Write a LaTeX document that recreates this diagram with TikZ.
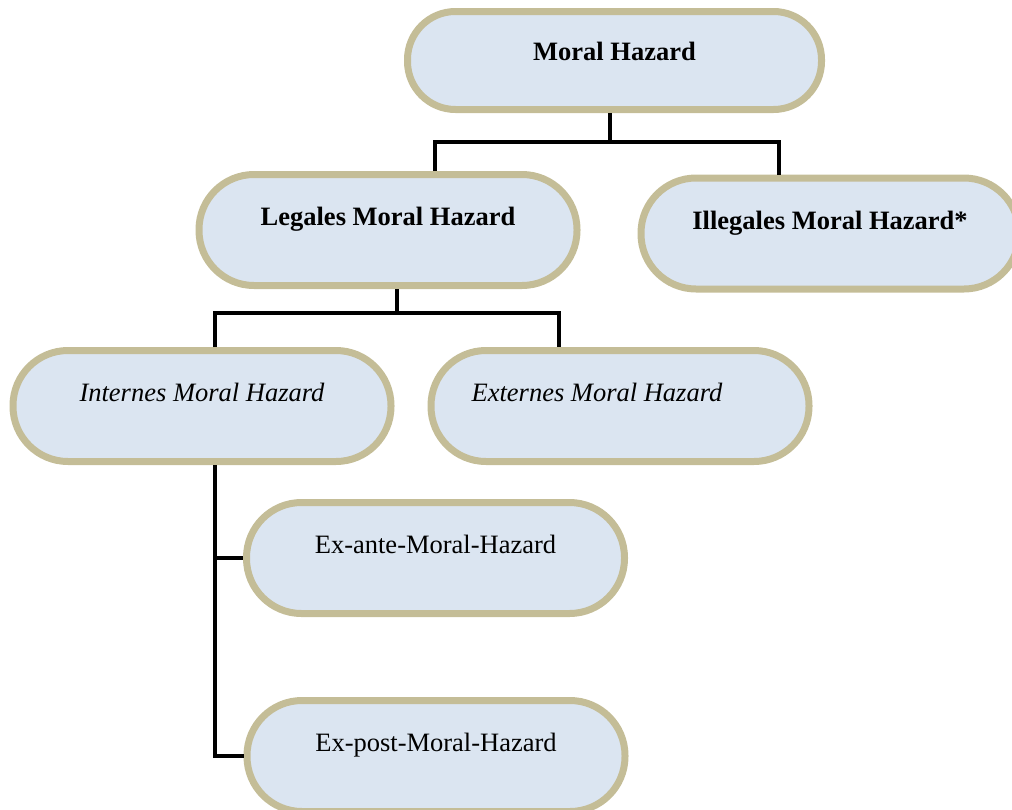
\documentclass[tikz,border=0pt]{standalone}
\usepackage{fontspec}
\setmainfont{Liberation Serif}

\definecolor{pillfill}{HTML}{DBE5F1}
\definecolor{pillline}{HTML}{C4BD97}

\tikzset{
    pill/.style={rectangle, rounded corners=55pt, draw=pillline, line width=7pt, fill=pillfill,
        minimum width=378pt, minimum height=111pt, inner sep=0pt,
        font=\fontsize{26.5}{30}\selectfont, text height=12pt, text depth=20.4pt},
    toppill/.style={pill, rounded corners=48pt, minimum width=414pt, minimum height=98pt, text depth=12pt},
    conn/.style={line width=4pt}
}

\begin{document}
\begin{tikzpicture}[x=1pt, y=-1pt]
        \useasboundingbox (0,0) rectangle (1012,809);
        \clip (0,0) rectangle (1012,809);

        \node[toppill] (mh) at (614.5, 60.5) {\textbf{Moral Hazard}};
        \node[pill] (legal) at (388, 230) {\textbf{Legales Moral Hazard}};
        \node[pill] (illegal) at (830, 233.5) {\textbf{Illegales Moral Hazard*}};
        \node[pill] (intern) at (202, 406) {\textit{Internes Moral Hazard}};
        \node[pill] (extern) at (620, 406) {\textit{Externes Moral Hazard}\hspace*{46pt}};
        \node[pill] (exante) at (435.5, 558) {Ex-ante-Moral-Hazard};
        \node[pill] (expost) at (436, 756) {Ex-post-Moral-Hazard};

        \coordinate (b1) at (610, 142);
        \coordinate (b2) at (397, 313);
        \coordinate (stem) at ([xshift=13pt]intern.south);

        \draw[conn] (b1 |- mh.south) -- (b1);
        \draw[conn] ([xshift=47pt]legal.north) |- (b1) -| ([xshift=-51pt]illegal.north);
        \draw[conn] (b2 |- legal.south) -- (b2);
        \draw[conn] ([xshift=13pt]intern.north) |- (b2) -| ([xshift=-61pt]extern.north);
        \draw[conn] (stem) |- (expost.west);
        \draw[conn] (stem |- exante.west) -- (exante.west);

    \end{tikzpicture}
\end{document}
